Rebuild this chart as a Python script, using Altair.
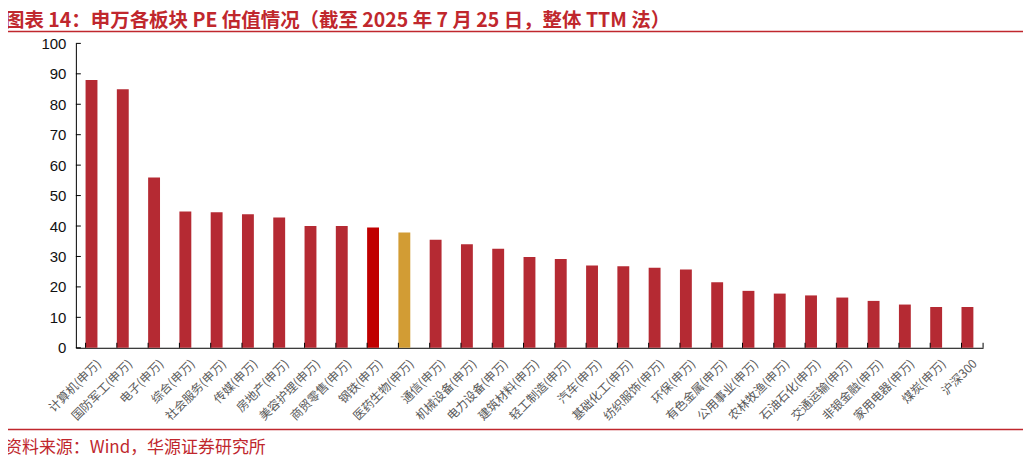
import altair as alt
import pandas as pd

names = ["计算机(申万)", "国防军工(申万)", "电子(申万)", "综合(申万)", "社会服务(申万)",
         "传媒(申万)", "房地产(申万)", "美容护理(申万)", "商贸零售(申万)", "钢铁(申万)",
         "医药生物(申万)", "通信(申万)", "机械设备(申万)", "电力设备(申万)", "建筑材料(申万)",
         "轻工制造(申万)", "汽车(申万)", "基础化工(申万)", "纺织服饰(申万)", "环保(申万)",
         "有色金属(申万)", "公用事业(申万)", "农林牧渔(申万)", "石油石化(申万)", "交通运输(申万)",
         "非银金融(申万)", "家用电器(申万)", "煤炭(申万)", "沪深300"]
pe = [88.0, 84.9, 55.9, 44.8, 44.5, 43.9, 42.8, 40.0, 40.0, 39.5,
      37.9, 35.5, 34.0, 32.5, 29.8, 29.2, 27.0, 26.8, 26.3, 25.7,
      21.5, 18.7, 17.8, 17.2, 16.5, 15.4, 14.2, 13.4, 13.4]
kind = ["normal"] * 9 + ["steel", "pharma"] + ["normal"] * 18
y_ticks = [0, 10, 20, 30, 40, 50, 60, 70, 80, 90, 100]

title_text = "图表 14：申万各板块 PE 估值情况（截至 2025 年 7 月 25 日，整体 TTM 法）"
source_text = "资料来源：Wind，华源证券研究所"

W, H = 909, 305
RED = "#C0272D"

df = pd.DataFrame({"name": names, "pe": pe, "kind": kind})

x_axis = alt.Axis(labelAngle=315, labelFont="Noto Sans CJK SC", labelFontSize=12,
                  labelColor="#595959", ticks=False, labelPadding=10, labelOffset=4,
                  domainColor="#000000", labelOverlap=False, title=None)
y_axis = alt.Axis(values=y_ticks, ticks=False, labelFont="Liberation Sans",
                  labelFontSize=15, labelColor="#111111", labelPadding=10,
                  labelOverlap=False, grid=False, domainColor="#000000", title=None)
x_scale = alt.Scale(paddingInner=0.62, paddingOuter=0.31)
y_scale = alt.Scale(domain=[0, 100], nice=False)

bars = alt.Chart(df).mark_bar().encode(
    x=alt.X("name:N", sort=names, scale=x_scale, axis=x_axis),
    y=alt.Y("pe:Q", scale=y_scale, axis=y_axis),
    color=alt.Color("kind:N", legend=None,
                    scale=alt.Scale(domain=["normal", "steel", "pharma"],
                                    range=["#B52A33", "#C00000", "#D29C34"])),
)

xticks = alt.Chart(df).mark_rule(color="#000000", strokeWidth=1).encode(
    x=alt.X("name:N", sort=names, bandPosition=0, scale=x_scale, axis=x_axis),
    y=alt.value(H - 5), y2=alt.value(H),
)
xtick_end = alt.Chart(pd.DataFrame({"a": [0]})).mark_rule(color="#000000").encode(
    x=alt.value(W), y=alt.value(H - 5), y2=alt.value(H))

ydf = pd.DataFrame({"v": y_ticks})
yticks = alt.Chart(ydf).mark_rule(color="#000000", strokeWidth=1).encode(
    y=alt.Y("v:Q", scale=y_scale, axis=y_axis), x=alt.value(0), x2=alt.value(5))

one = pd.DataFrame({"a": [0]})
title = alt.Chart(one).mark_text(text=title_text, align="left", baseline="alphabetic",
                                 font="Noto Sans CJK SC", fontSize=19.5, fontWeight="bold",
                                 color=RED).encode(x=alt.value(-71), y=alt.value(-16))
line_top = alt.Chart(one).mark_rule(color=RED, strokeWidth=1.5).encode(
    x=alt.value(-71), x2=alt.value(949), y=alt.value(-12))
line_bot = alt.Chart(one).mark_rule(color=RED, strokeWidth=1.5).encode(
    x=alt.value(-71), x2=alt.value(949), y=alt.value(387))
source = alt.Chart(one).mark_text(text=source_text, align="left", baseline="middle",
                                  font="Noto Sans CJK SC", fontSize=17,
                                  color=RED).encode(x=alt.value(-71), y=alt.value(405))

chart = alt.layer(bars, xticks, xtick_end, yticks, title, line_top, line_bot, source).properties(
    width=W, height=H,
    autosize=alt.AutoSizeParams(type="none"),
    padding={"left": 68, "top": 35, "right": 40, "bottom": 114},
).configure_view(stroke=None)

chart.save("out.html", embed_options={"renderer": "svg", "actions": False})
